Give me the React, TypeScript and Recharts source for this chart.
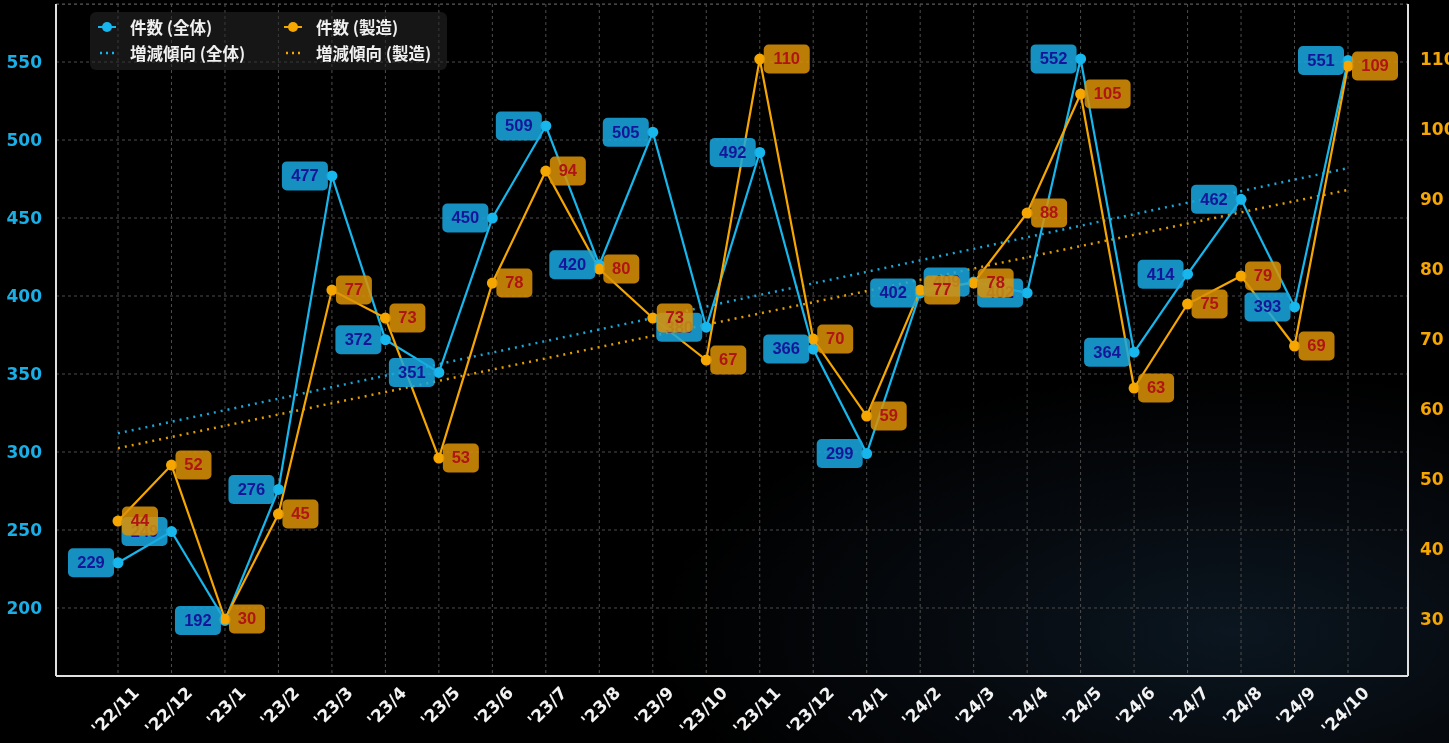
import React from 'react';
import {
  LineChart,
  Line,
  XAxis,
  YAxis,
  CartesianGrid,
  LabelList,
  ReferenceLine,
} from 'recharts';

const categories = [
  "'22/11", "'22/12", "'23/1", "'23/2", "'23/3", "'23/4", "'23/5", "'23/6",
  "'23/7", "'23/8", "'23/9", "'23/10", "'23/11", "'23/12", "'24/1", "'24/2",
  "'24/3", "'24/4", "'24/5", "'24/6", "'24/7", "'24/8", "'24/9", "'24/10",
];

const totalCounts = [
  229, 249, 192, 276, 477, 372, 351, 450, 509, 420, 505, 380,
  492, 366, 299, 402, 409, 402, 552, 364, 414, 462, 393, 551,
];

const mfgCounts = [
  44, 52, 30, 45, 77, 73, 53, 78, 94, 80, 73, 67,
  110, 70, 59, 77, 78, 88, 105, 63, 75, 79, 69, 109,
];

// trend line endpoints (first and last month)
const trendTotal: (number | null)[] = [
  312, null, null, null, null, null, null, null, null, null, null, null,
  null, null, null, null, null, null, null, null, null, null, null, 482,
];
const trendMfg: (number | null)[] = [
  54.4, null, null, null, null, null, null, null, null, null, null, null,
  null, null, null, null, null, null, null, null, null, null, null, 91.3,
];

const leftTicks = [200, 250, 300, 350, 400, 450, 500, 550];
const rightTicks = [30, 40, 50, 60, 70, 80, 90, 100, 110];

const seriesNames = {
  total: '件数 (全体)',
  mfg: '件数 (製造)',
  trendTotal: '増減傾向 (全体)',
  trendMfg: '増減傾向 (製造)',
};

const BLUE = '#17b6ec';
const ORANGE = '#f5a600';

const data = categories.map((month, i) => ({
  month,
  total: totalCounts[i],
  mfg: mfgCounts[i],
  trendTotal: trendTotal[i],
  trendMfg: trendMfg[i],
}));

const LABEL_FONT = '"Liberation Sans", Arial, sans-serif';
const TICK_FONT = '"DejaVu Sans", Verdana, sans-serif';

const makeLabel = (side: 'left' | 'right') => (props: any) => {
  const { x, y, value } = props;
  if (value == null || x == null || y == null) return null;
  const txt = String(value);
  const w = txt.length * 10 + 16;
  const h = 29;
  const bx = side === 'left' ? x - 4 - w : x + 4;
  const by = y - h / 2;
  const fill = side === 'left' ? 'rgba(24,168,224,0.86)' : 'rgba(218,146,6,0.86)';
  const color = side === 'left' ? '#15159a' : '#b01414';
  return (
    <g>
      <rect x={bx} y={by} width={w} height={h} rx={5} ry={5} fill={fill} />
      <text
        x={bx + w / 2}
        y={y + 1}
        textAnchor="middle"
        dominantBaseline="middle"
        fill={color}
        fontFamily={LABEL_FONT}
        fontWeight="bold"
        fontSize={16.5}
      >
        {txt}
      </text>
    </g>
  );
};

const XTick = (props: any) => {
  const { x, y, payload } = props;
  return (
    <g transform={`translate(${x + 22},${y + 10})`}>
      <text
        transform="rotate(-45)"
        textAnchor="end"
        fill="#f2f2f2"
        fontFamily={TICK_FONT}
        fontWeight="bold"
        fontSize={17}
      >
        {payload.value}
      </text>
    </g>
  );
};

const LegendBox = () => {
  const item = (color: string, dotted: boolean, label: string) => (
    <div style={{ display: 'flex', alignItems: 'center', height: 26 }}>
      <svg width={32} height={14} style={{ flex: 'none' }}>
        {dotted ? (
          <line x1={2} y1={7} x2={18} y2={7} stroke={color} strokeWidth={2.5} strokeDasharray="2 4" />
        ) : (
          <g>
            <line x1={0} y1={7} x2={18} y2={7} stroke={color} strokeWidth={2} />
            <circle cx={9} cy={7} r={5} fill={color} />
          </g>
        )}
      </svg>
      <span style={{ color: '#f0f0f0', fontWeight: 'bold', fontSize: 16.5, whiteSpace: 'nowrap' }}>{label}</span>
    </div>
  );
  return (
    <div
      style={{
        position: 'absolute',
        left: 90,
        top: 12,
        display: 'grid',
        gridTemplateColumns: '186px 160px',
        padding: '2px 8px 4px 8px',
        background: 'rgba(40,40,40,0.55)',
        borderRadius: 6,
        fontFamily: '"Noto Sans CJK JP", "Noto Sans", sans-serif',
        width: 357,
        boxSizing: 'border-box',
        pointerEvents: 'none',
      }}
    >
      {item(BLUE, false, seriesNames.total)}
      {item(ORANGE, false, seriesNames.mfg)}
      {item(BLUE, true, seriesNames.trendTotal)}
      {item(ORANGE, true, seriesNames.trendMfg)}
    </div>
  );
};

export default function App() {
  return (
    <div
      style={{
        position: 'fixed',
        left: 0,
        top: 0,
        width: 1449,
        height: 743,
        overflow: 'hidden',
        background:
          'radial-gradient(ellipse 40% 35% at 85% 85%, #0b1620 0%, #05080c 60%, #000 100%)',
      }}
    >
      <LineChart
        width={1449}
        height={743}
        data={data}
        margin={{ top: 4, right: 0, bottom: 0, left: 0 }}
      >
        <CartesianGrid
          yAxisId="left"
          stroke="#4d4d4d"
          strokeDasharray="3 3"
          strokeWidth={1}
        />
        <ReferenceLine yAxisId="left" y={587} stroke="#4d4d4d" strokeDasharray="3 3" />
        <XAxis
          dataKey="month"
          scale="point"
          padding={{ left: 62, right: 60 }}
          height={67}
          interval={0}
          tick={<XTick />}
          tickLine={false}
          axisLine={{ stroke: '#e0e0e0', strokeWidth: 2 }}
        />
        <YAxis
          yAxisId="left"
          orientation="left"
          width={56}
          domain={[156.4, 587.2]}
          ticks={leftTicks}
          allowDataOverflow
          tickLine={false}
          axisLine={{ stroke: '#e0e0e0', strokeWidth: 2 }}
          tick={{ fill: '#1aaee6', fontSize: 17, fontWeight: 'bold', fontFamily: TICK_FONT }}
          tickMargin={8}
        />
        <YAxis
          yAxisId="right"
          orientation="right"
          width={41}
          domain={[21.86, 117.86]}
          ticks={rightTicks}
          allowDataOverflow
          tickLine={false}
          axisLine={{ stroke: '#e0e0e0', strokeWidth: 2 }}
          tick={{ fill: ORANGE, fontSize: 17, fontWeight: 'bold', fontFamily: TICK_FONT, textAnchor: 'start' }}
          tickMargin={6}
        />
        <Line
          yAxisId="left"
          dataKey="trendTotal"
          name={seriesNames.trendTotal}
          stroke="#1aa6d8"
          strokeWidth={2.5}
          strokeDasharray="2 5"
          dot={false}
          activeDot={false}
          connectNulls
          isAnimationActive={false}
        />
        <Line
          yAxisId="right"
          dataKey="trendMfg"
          name={seriesNames.trendMfg}
          stroke="#e09c00"
          strokeWidth={2.5}
          strokeDasharray="2 5"
          dot={false}
          activeDot={false}
          connectNulls
          isAnimationActive={false}
        />
        <Line
          yAxisId="left"
          dataKey="total"
          name={seriesNames.total}
          stroke={BLUE}
          strokeWidth={2.2}
          dot={{ r: 5.5, fill: BLUE, stroke: 'none' }}
          isAnimationActive={false}
        >
          <LabelList dataKey="total" content={makeLabel('left')} />
        </Line>
        <Line
          yAxisId="right"
          dataKey="mfg"
          name={seriesNames.mfg}
          stroke={ORANGE}
          strokeWidth={2.2}
          dot={{ r: 5.5, fill: ORANGE, stroke: 'none' }}
          isAnimationActive={false}
        >
          <LabelList dataKey="mfg" content={makeLabel('right')} />
        </Line>
      </LineChart>
      <LegendBox />
    </div>
  );
}
